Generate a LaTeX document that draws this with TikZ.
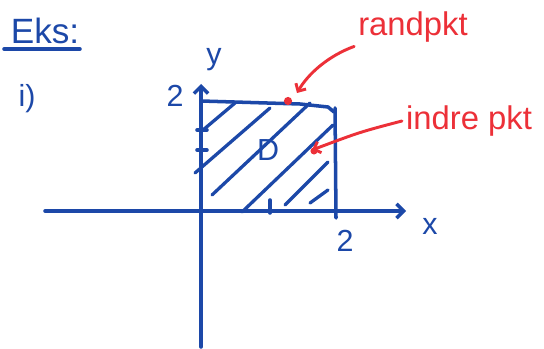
\documentclass[tikz,border=0pt]{standalone}
\usepackage{fontspec}
\setmainfont{Liberation Sans}
\usetikzlibrary{arrows.meta,positioning}

\definecolor{penblue}{RGB}{28,72,168}
\definecolor{penred}{RGB}{236,48,56}

\begin{document}
\begin{tikzpicture}[x=0.03cm,y=-0.03cm,
    pen/.style={penblue,line width=3pt,line cap=round,line join=round},
    hatch/.style={penblue,line width=2.8pt,line cap=round},
    redpen/.style={penred,line width=2.5pt,line cap=round},
    bluetxt/.style={penblue,font=\fontsize{26}{28}\selectfont},
    redtxt/.style={penred,font=\fontsize{28}{30}\selectfont}]
    \useasboundingbox (0,0) rectangle (544,349);

    % Heading
    \node[penblue,font=\fontsize{30}{32}\selectfont] (title) at (45,31) {Eks:};
    \draw[pen] (4,49) -- (80,49);
    \node[bluetxt] (item) at (27,99) {i)};

    % Axes
    \draw[pen,-{Straight Barb[length=6pt,width=12pt]}] (45,211) -- (406,211);
    \draw[pen,-{Straight Barb[length=6pt,width=12pt]}] (201,347) -- (201,84);
    \node[bluetxt] (xlab) at (430,226) {x};
    \node[bluetxt] (ylab) at (214,60) {y};
    \node[bluetxt] (ytwo) at (175,96) {2};
    \node[bluetxt] (xtwo) at (345,241) {2};

    % Ticks
    \draw[pen] (270,200) -- (270,213);
    \draw[pen] (197,130) -- (207,130);
    \draw[pen] (197,150) -- (207,150);

    % Square region D
    \draw[pen] (201,101) -- (300,104) -- (328,107) -- (334,112);
    \draw[pen] (335,108) -- (336,218);
    \foreach \a/\b/\c/\d in {203/130/235/103, 195/173/270/108, 212/195/310/103,
                             242/212/333/125, 285/205/328/162, 310/203/328/190}
        \draw[hatch] (\a,\b) -- (\c,\d);
    \node[bluetxt] (dlab) at (268,150) {D};

    % Boundary point and interior point
    \node[redtxt] (randtxt) at (413,27) {randpkt};
    \coordinate (randpt) at (297,93);
    \fill[penred] (288,101) circle (3.5pt);
    \draw[redpen,-{Straight Barb[length=5pt,width=10pt]}] (randtxt.south west)
        .. controls (328,56) and (308,74) .. (randpt);

    \node[redtxt] (indretxt) at (469,121) {indre pkt};
    \coordinate (indrept) at (312,150);
    \fill[penred] (314,151) circle (3pt);
    \draw[redpen,-{Straight Barb[length=5pt,width=10pt]}] (indretxt.west)
        .. controls (360,132) .. (indrept);
\end{tikzpicture}
\end{document}
